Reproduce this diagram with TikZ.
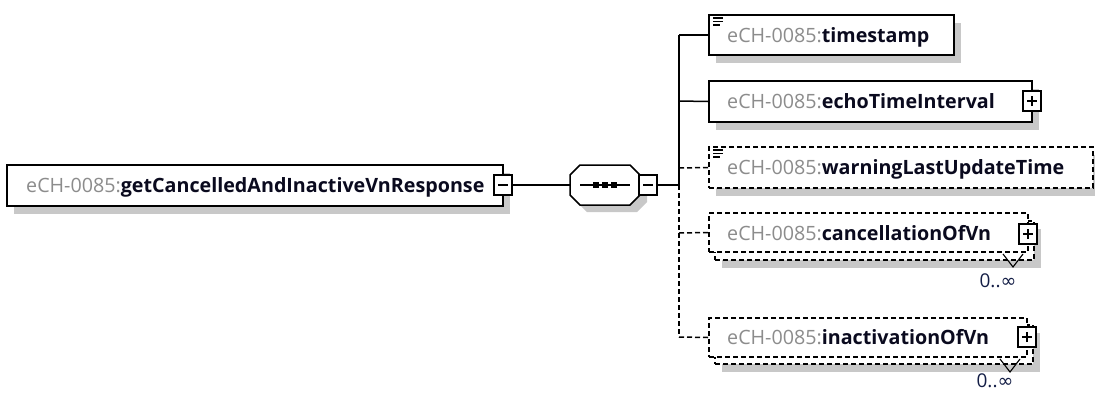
\documentclass[tikz,border=0pt]{standalone}
\usepackage{fontspec}
\setmainfont{Open Sans}
\newfontfamily\symfont{DejaVu Sans}
\usetikzlibrary{shadows}
\definecolor{pfx}{RGB}{140,140,140}
\definecolor{nm}{RGB}{10,10,30}
\definecolor{shg}{RGB}{200,200,200}
\definecolor{occ}{RGB}{20,30,70}
\newcommand{\elname}[1]{{\color{pfx}eCH-0085:}{\bfseries\color{nm}#1}}
\tikzset{
  box/.style={draw=black, line width=1.5pt, fill=white, inner sep=0pt,
    general shadow={fill=shg, shadow xshift=7pt, shadow yshift=-8pt}},
  optbox/.style={box, dash pattern=on 5pt off 3pt},
  backbox/.style={draw=black, line width=1.5pt, fill=white, inner sep=0pt, dash pattern=on 5pt off 3pt},
  pm/.style={draw=black, line width=1.5pt, fill=white, minimum width=18pt, minimum height=20pt, inner sep=0pt},
  lbl/.style={anchor=base west, inner sep=0pt, font=\fontsize{19.7}{22}\selectfont},
  occl/.style={inner sep=0pt, font=\fontsize{19}{20}\selectfont, text=occ},
  conn/.style={line width=1.5pt},
  optconn/.style={line width=1.5pt, dash pattern=on 5pt off 3pt},
  pmline/.style={line width=1.4pt},
}
\begin{document}
\begin{tikzpicture}[x=1pt, y=-1pt]
\useasboundingbox (0,0) rectangle (1095,392);
% main element
\node[box, minimum width=496pt, minimum height=41pt] (main) at (255,185.5) {};
\node[lbl] (mainl) at (26,192.5) {\elname{getCancelledAndInactiveVnResponse}};
\node[pm] (mainpm) at (503,185) {};
\draw[pmline] ([xshift=-5pt]mainpm.center) -- ([xshift=5pt]mainpm.center);
% sequence compositor
\fill[shg] (587,172) -- (637,172) -- (647,182) -- (647,202) -- (637,212) -- (587,212) -- (577,202) -- (577,182) -- cycle;
\draw[line width=1.5pt, fill=white] (580,165) -- (630,165) -- (640,175) -- (640,195) -- (630,205) -- (580,205) -- (570,195) -- (570,175) -- cycle;
\node[minimum width=70pt, minimum height=40pt, inner sep=0pt] (seq) at (605,185) {};
\draw[line width=1.4pt] (580,185) -- (630,185);
\foreach \xx in {596,605,614} \fill (\xx-3,182) rectangle (\xx+3,188);
\node[pm] (seqpm) at (648,185) {};
\draw[pmline] ([xshift=-5pt]seqpm.center) -- ([xshift=5pt]seqpm.center);
\draw[conn] (mainpm.east) -- (seq.west);
% trunk
\coordinate (tj) at (679,185);
\coordinate (t1) at (679,35);
\coordinate (t2) at (679,101);
\coordinate (t3) at (679,168);
\coordinate (t4) at (679,233);
\coordinate (t5) at (679,337);
\draw[conn] (seqpm.east) -- (tj);
\draw[conn] (t1) -- (tj);
\draw[optconn] (tj) -- (t5);
% timestamp
\node[box, minimum width=245pt, minimum height=40pt] (ts) at (831.5,35) {};
\node[lbl] (tsl) at (727,42) {\elname{timestamp}};
\draw[line width=1.1pt] (713,18) -- (723,18) (713,21.5) -- (723,21.5) (713,25) -- (720,25);
\draw[conn] (t1) -- (ts.west);
% echoTimeInterval
\node[box, minimum width=323pt, minimum height=41pt] (echo) at (870.5,101.5) {};
\node[lbl] (echol) at (727,108.5) {\elname{echoTimeInterval}};
\node[pm] (echopm) at (1032,101) {};
\draw[pmline] ([xshift=-5pt]echopm.center) -- ([xshift=5pt]echopm.center) ([yshift=-5pt]echopm.center) -- ([yshift=5pt]echopm.center);
\draw[conn] (t2) -- (echo.west);
% warningLastUpdateTime
\node[optbox, minimum width=384pt, minimum height=41pt] (warn) at (901,167.5) {};
\node[lbl] (warnl) at (727,174.5) {\elname{warningLastUpdateTime}};
\draw[line width=1.1pt] (713,150) -- (723,150) (713,153.5) -- (723,153.5) (713,157) -- (720,157);
\draw[optconn] (t3) -- (warn.west);
% cancellationOfVn
\node[optbox, minimum width=319pt, minimum height=39pt] (cancb) at (874.5,240.5) {};
\node[backbox, minimum width=319pt, minimum height=39pt] (canc) at (868.5,232.5) {};
\node[lbl] (cancl) at (727,240) {\elname{cancellationOfVn}};
\node[pm] (cancpm) at (1028,234) {};
\draw[pmline] ([xshift=-5pt]cancpm.center) -- ([xshift=5pt]cancpm.center) ([yshift=-5pt]cancpm.center) -- ([yshift=5pt]cancpm.center);
\draw[line width=1.1pt] (1003,254) -- (1013,267) -- (1023,254);
\node[occl] (cancocc) at (998,281) {0..{\symfont ∞}};
\draw[optconn] (t4) -- (canc.west);
% inactivationOfVn
\node[optbox, minimum width=318pt, minimum height=39pt] (inactb) at (874,344.5) {};
\node[backbox, minimum width=318pt, minimum height=39pt] (inact) at (868,337.5) {};
\node[lbl] (inactl) at (727,344) {\elname{inactivationOfVn}};
\node[pm] (inactpm) at (1027,337) {};
\draw[pmline] ([xshift=-5pt]inactpm.center) -- ([xshift=5pt]inactpm.center) ([yshift=-5pt]inactpm.center) -- ([yshift=5pt]inactpm.center);
\draw[line width=1.1pt] (1000,359) -- (1010,372) -- (1020,359);
\node[occl] (inactocc) at (995,381) {0..{\symfont ∞}};
\draw[optconn] (t5) -- (inact.west);
\end{tikzpicture}
\end{document}
